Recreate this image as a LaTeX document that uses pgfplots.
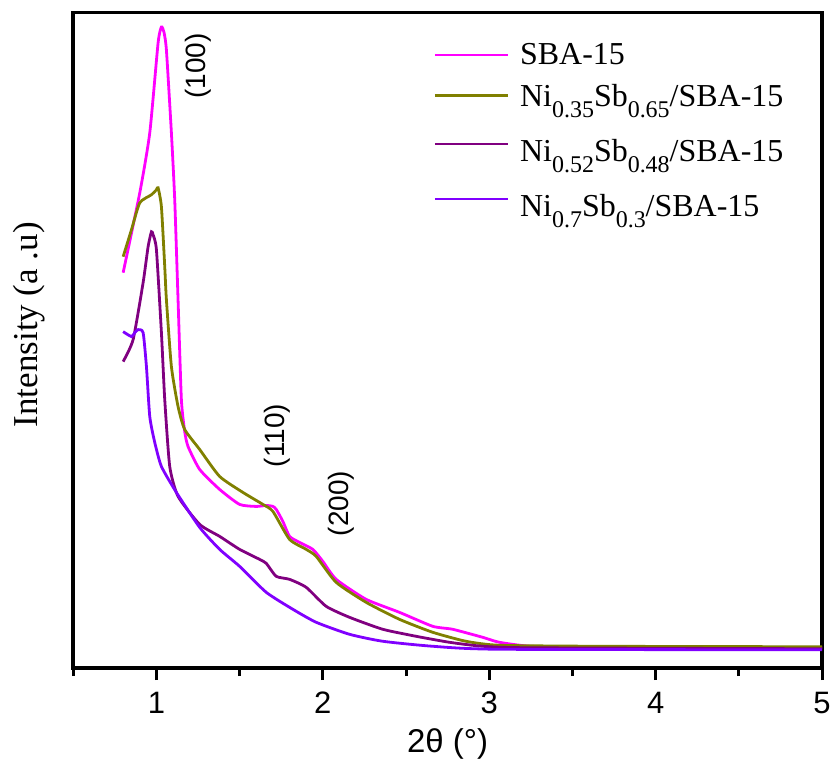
\documentclass[border=0pt]{standalone}
\usepackage{fontspec}
\setmainfont{Liberation Serif}
\newfontfamily\arial{Liberation Sans}
\usepackage{pgfplots}
\pgfplotsset{compat=1.18}
\definecolor{cpink}{RGB}{255,0,255}
\definecolor{colive}{RGB}{128,128,0}
\definecolor{cpurple}{RGB}{128,0,128}
\definecolor{cviolet}{RGB}{128,0,255}
\newcommand{\sub}[1]{\raisebox{-11.7pt}{\fontsize{24}{24}\selectfont #1}}
\newcommand{\tall}{\rule{0pt}{36pt}}
\begin{document}
\begin{tikzpicture}
\begin{axis}[
  scale only axis,
  width=749.7pt, height=656.3pt,
  xmin=0.5, xmax=5, ymin=-2, ymax=654.3,
  axis line style={line width=3.5pt},
  xtick={1,2,3,4,5},
  xticklabels={1,2,3,4,5},
  minor xtick={0.5,1.5,2.5,3.5,4.5},
  ytick=\empty,
  xtick pos=bottom,
  tick align=outside,
  major tick length=12pt,
  minor tick length=8pt,
  major tick style={line width=3pt, black},
  minor tick style={line width=3pt, black},
  xticklabel style={font=\fontsize{31}{31}\selectfont\arial, yshift=-8pt},
  xlabel={2θ (°)},
  xlabel style={font=\fontsize{33}{33}\selectfont\arial, yshift=-8pt},
  ylabel={Intensity (a .u)},
  ylabel style={font=\fontsize{35}{35}\selectfont, at={(axis description cs:-0.0587,0.524)}, anchor=center},
  legend style={draw=none, fill=none, at={(rel axis cs:0.4767,0.959)}, anchor=north west,
    font=\fontsize{32}{36}\selectfont, row sep=13.6pt},
  legend cell align=left,
  legend image code/.code={\draw[#1, line width=2.8pt] (0pt,0pt) -- (73pt,0pt); \path (82pt,0pt);},
  every axis plot/.append style={line width=2.8pt, smooth, tension=0.35},
  clip=false,
]
\addplot[cpink] coordinates {
(0.80,394)(0.90,474)(0.96,534)(1.01,624)(1.03,640)(1.045,635)(1.06,617)(1.09,534)(1.11,467)(1.13,367)(1.15,267)(1.17,235)(1.19,220)(1.26,197)(1.38,177)(1.50,162)(1.60,160)(1.66,161)(1.70,160)(1.72,157)(1.76,145)(1.80,130)(1.86,124)(1.94,117)(2.00,105)(2.08,87)(2.26,67)(2.46,54)(2.66,40)(2.78,37)(2.96,29)(3.06,24)(3.25,20)(3.66,19)(5.00,18.5)};
\addlegendentry{SBA-15}
\addplot[colive] coordinates {
(0.80,410)(0.85,437)(0.90,464)(0.97,472)(1.00,477)(1.01,479)(1.03,460)(1.05,400)(1.06,367)(1.09,300)(1.13,260)(1.17,237)(1.26,217)(1.38,190)(1.52,174)(1.64,162)(1.70,155)(1.80,127)(1.90,117)(1.96,110)(2.08,84)(2.26,64)(2.46,47)(2.66,34)(2.86,25)(3.06,21)(3.66,20)(5.00,19.5)};
\addlegendentry{Ni\sub{0.35}Sb\sub{0.65}/SBA-15}
\addplot[cpurple] coordinates {
(0.80,305)(0.86,327)(0.92,384)(0.95,420)(0.97,435)(0.98,432)(1.00,417)(1.03,334)(1.05,267)(1.08,200)(1.13,170)(1.26,142)(1.38,130)(1.50,117)(1.62,107)(1.66,103)(1.72,90)(1.80,87)(1.90,79)(2.02,60)(2.16,49)(2.36,37)(2.56,30)(2.76,24)(2.96,20)(3.25,18.5)(5.00,17.5)};
\addlegendentry{\tall Ni\sub{0.52}Sb\sub{0.48}/SBA-15}
\addplot[cviolet] coordinates {
(0.80,335)(0.85,330)(0.87,334)(0.89,337)(0.92,334)(0.94,300)(0.96,250)(0.99,224)(1.03,200)(1.12,174)(1.26,139)(1.38,117)(1.50,100)(1.66,74)(1.82,57)(1.96,44)(2.16,32)(2.36,25)(2.66,20)(3.06,17)(5.00,16.5)};
\addlegendentry{\tall Ni\sub{0.7}Sb\sub{0.3}/SBA-15}
\node[rotate=90, font=\fontsize{28}{28}\selectfont\arial] at (axis cs:1.249,601) {(100)};
\node[rotate=90, font=\fontsize{28}{28}\selectfont\arial] at (axis cs:1.729,231) {(110)};
\node[rotate=90, font=\fontsize{28}{28}\selectfont\arial] at (axis cs:2.113,163) {(200)};
\end{axis}
\path (current axis.south west) ++(-73.3pt,-92pt);
\path (current axis.north east) ++(11pt,12.7pt);
\end{tikzpicture}
\end{document}
